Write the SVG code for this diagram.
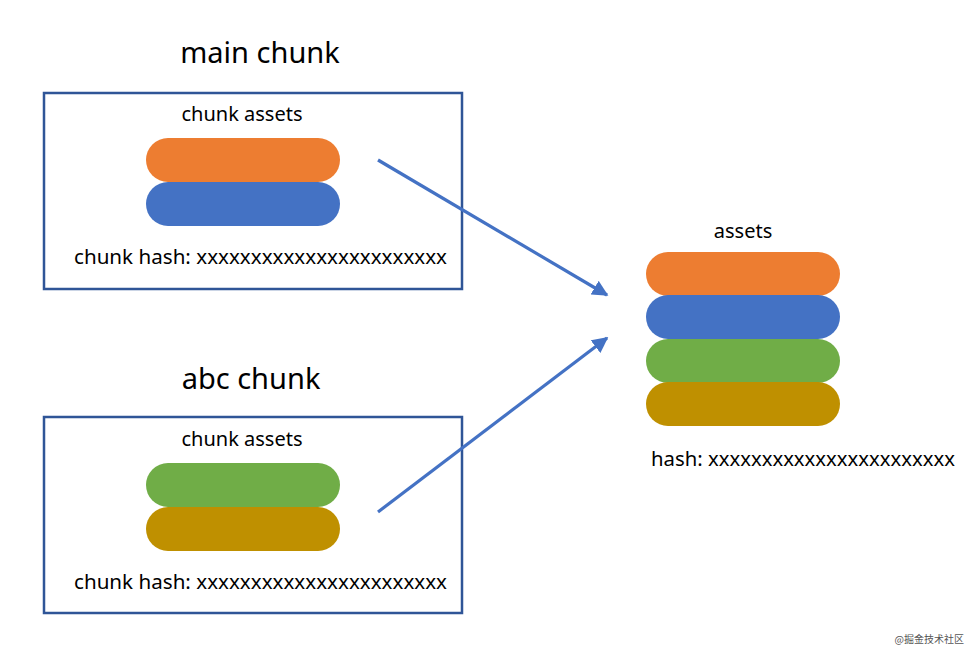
<svg xmlns="http://www.w3.org/2000/svg" width="977" height="658" viewBox="0 0 977 658">
<style>
.box{fill:#fff;stroke:#2F5597;stroke-width:2.5}
.t{font-family:"Noto Sans","DejaVu Sans",sans-serif;fill:#000}
.title{font-size:29px}
.lbl{font-size:20px}
.orange{fill:#ED7D31}
.blue{fill:#4472C4}
.green{fill:#70AD47}
.gold{fill:#BF9000}
.conn{stroke:#4472C4;stroke-width:3.2;fill:none}
</style>
<defs>
<marker id="ah" viewBox="0 0 10 10" refX="9" refY="5" markerWidth="5" markerHeight="5" markerUnits="strokeWidth" orient="auto">
<path d="M0,0 L10,5 L0,10 z" fill="#4472C4"/>
</marker>
</defs>
<rect width="977" height="658" fill="#fff"/>
<g id="main-chunk">
<text class="t title" x="260" y="63" text-anchor="middle">main chunk</text>
<rect class="box" x="44" y="93" width="418" height="196"/>
<text class="t lbl" x="242" y="121" text-anchor="middle">chunk assets</text>
<rect class="orange" x="146" y="138" width="194" height="44" rx="22"/>
<rect class="blue" x="146" y="182" width="194" height="44" rx="22"/>
<text class="t lbl" x="74" y="264" textLength="373" lengthAdjust="spacingAndGlyphs">chunk hash: xxxxxxxxxxxxxxxxxxxxxxx</text>
</g>
<g id="abc-chunk">
<text class="t title" x="251" y="389" text-anchor="middle">abc chunk</text>
<rect class="box" x="44" y="417" width="418" height="196"/>
<text class="t lbl" x="242" y="446" text-anchor="middle">chunk assets</text>
<rect class="green" x="146" y="463" width="194" height="44" rx="22"/>
<rect class="gold" x="146" y="507" width="194" height="44" rx="22"/>
<text class="t lbl" x="74" y="589" textLength="373" lengthAdjust="spacingAndGlyphs">chunk hash: xxxxxxxxxxxxxxxxxxxxxxx</text>
</g>
<g id="assets">
<text class="t lbl" x="743" y="238" text-anchor="middle">assets</text>
<rect class="orange" x="646" y="252" width="194" height="44" rx="22"/>
<rect class="blue" x="646" y="295" width="194" height="44" rx="22"/>
<rect class="green" x="646" y="339" width="194" height="44" rx="22"/>
<rect class="gold" x="646" y="382" width="194" height="44" rx="22"/>
<text class="t lbl" x="651" y="466" textLength="304" lengthAdjust="spacingAndGlyphs">hash: xxxxxxxxxxxxxxxxxxxxxxx</text>
</g>
<g id="connectors">
<line class="conn" x1="378" y1="160" x2="607" y2="295" marker-end="url(#ah)"/>
<line class="conn" x1="378" y1="512" x2="607" y2="338" marker-end="url(#ah)"/>
</g>
<text x="964" y="643" font-size="10" text-anchor="end" style="font-family:'Noto Sans CJK SC',sans-serif;fill:#555">@掘金技术社区</text>
</svg>
